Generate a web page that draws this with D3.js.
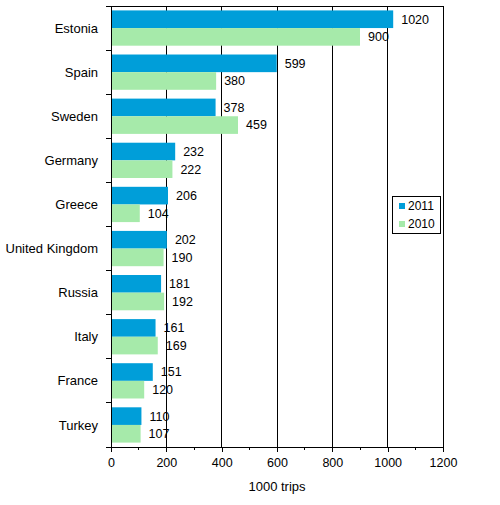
<!DOCTYPE html>
<html>
<head>
<meta charset="utf-8">
<script src="https://cdn.jsdelivr.net/npm/d3@7"></script>
<style>
  body { margin: 0; background: #fff; }
  text { font-family: "Liberation Sans", Arial, sans-serif; fill: #000; }
</style>
</head>
<body>
<svg id="chart" width="500" height="505"></svg>
<script>
const countries = ["Estonia", "Spain", "Sweden", "Germany", "Greece",
                   "United Kingdom", "Russia", "Italy", "France", "Turkey"];
const trips2011 = [1020, 599, 378, 232, 206, 202, 181, 161, 151, 110];
const trips2010 = [900, 380, 459, 222, 104, 190, 192, 169, 120, 107];
const seriesNames = ["2011", "2010"];
const xTicks = [0, 200, 400, 600, 800, 1000, 1200];
const axisTitle = "1000 trips";

const width = 500,
      height = 505;
const margin = { top: 6, right: 57, bottom: 58, left: 111 };
const colors = ["#009ed9", "#a6eaaa"];

const svg = d3.select('#chart');

// x axis - trips
const x = d3.scaleLinear()
            .domain([0, 1200])
            .range([margin.left, width - margin.right]);

// y - countries
const y = d3.scaleBand()
            .domain(countries)
            .range([margin.top, height - margin.bottom])
            .paddingInner(0.2)
            .paddingOuter(0.1);

const sub = d3.scaleBand()
              .domain(seriesNames)
              .range([0, y.bandwidth()]);

const series = [trips2011, trips2010];

// gridlines
svg.append("g")
    .selectAll("line")
    .data(xTicks.slice(1))
    .enter()
    .append("line")
    .attr("x1", d => x(d)).attr("x2", d => x(d))
    .attr("y1", margin.top).attr("y2", height - margin.bottom)
    .attr("stroke", "#000")
    .attr("shape-rendering", "crispEdges");

// top border
svg.append("line")
    .attr("x1", margin.left).attr("x2", width - margin.right)
    .attr("y1", margin.top).attr("y2", margin.top)
    .attr("stroke", "#000")
    .attr("shape-rendering", "crispEdges");

// bars
series.forEach((vals, si) => {
    svg.append("g")
        .selectAll("rect")
        .data(countries)
        .enter()
        .append("rect")
        .attr("x", x(0))
        .attr("y", d => y(d) + sub(seriesNames[si]))
        .attr("width", (d, i) => x(vals[i]) - x(0))
        .attr("height", sub.bandwidth())
        .attr("fill", colors[si]);

    svg.append("g")
        .selectAll("text")
        .data(countries)
        .enter()
        .append("text")
        .attr("x", (d, i) => x(vals[i]) + 8)
        .attr("y", d => y(d) + sub(seriesNames[si]) + sub.bandwidth() / 2)
        .attr("dy", "0.35em")
        .style("font-size", "12.5px")
        .text((d, i) => vals[i]);
});

// x axis
const xAxisGroup = svg.append("g")
    .attr("transform", `translate(0,${height - margin.bottom})`)
    .call(d3.axisBottom(x).tickValues(xTicks).tickFormat(d3.format("d"))
            .tickSize(5).tickPadding(6));

xAxisGroup.select(".domain").attr("d", `M${x(0)},0H${x(1200)}`);
xAxisGroup.selectAll("text")
    .style("font-size", "12.5px")
    .style("font-family", '"Liberation Sans", Arial, sans-serif');
xAxisGroup.selectAll("path, line")
    .attr("stroke", "#000")
    .attr("shape-rendering", "crispEdges");

// minor ticks
xAxisGroup.append("g")
    .selectAll("line")
    .data(d3.range(100, 1200, 200))
    .enter()
    .append("line")
    .attr("x1", d => x(d)).attr("x2", d => x(d))
    .attr("y1", 0).attr("y2", 3)
    .attr("stroke", "#000")
    .attr("shape-rendering", "crispEdges");

// right border
svg.append("line")
    .attr("x1", x(1200)).attr("x2", x(1200))
    .attr("y1", margin.top).attr("y2", height - margin.bottom)
    .attr("stroke", "#000")
    .attr("shape-rendering", "crispEdges");

// y axis
const step = y.step();
const yAxisGroup = svg.append("g")
    .attr("transform", `translate(${margin.left},0)`);

yAxisGroup.append("line")
    .attr("y1", margin.top).attr("y2", height - margin.bottom)
    .attr("stroke", "#000")
    .attr("shape-rendering", "crispEdges");

yAxisGroup.selectAll("line.tick")
    .data(d3.range(countries.length + 1))
    .enter()
    .append("line")
    .attr("class", "tick")
    .attr("x1", -5).attr("x2", 0)
    .attr("y1", i => margin.top + i * step)
    .attr("y2", i => margin.top + i * step)
    .attr("stroke", "#000")
    .attr("shape-rendering", "crispEdges");

yAxisGroup.selectAll("text")
    .data(countries)
    .enter()
    .append("text")
    .attr("x", -13)
    .attr("y", d => y(d) + y.bandwidth() / 2)
    .attr("dy", "0.35em")
    .attr("text-anchor", "end")
    .style("font-size", "13px")
    .text(d => d);

// axis title
svg.append("text")
    .attr("x", (x(0) + x(1200)) / 2)
    .attr("y", 491)
    .attr("text-anchor", "middle")
    .style("font-size", "13px")
    .text(axisTitle);

// legend
const legend = svg.append("g").attr("transform", "translate(392,196)");
legend.append("rect")
    .attr("x", 0.5).attr("y", 0.5)
    .attr("width", 48).attr("height", 37)
    .attr("fill", "#fff")
    .attr("stroke", "#000");

seriesNames.forEach((name, i) => {
    legend.append("rect")
        .attr("x", 7).attr("y", 7 + i * 18)
        .attr("width", 6).attr("height", 6)
        .attr("fill", colors[i]);
    legend.append("text")
        .attr("x", 16).attr("y", 10 + i * 18)
        .attr("dy", "0.35em")
        .style("font-size", "12px")
        .text(name);
});
</script>
</body>
</html>
